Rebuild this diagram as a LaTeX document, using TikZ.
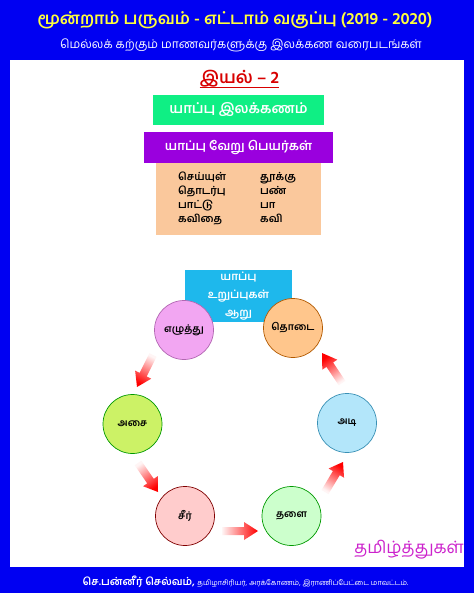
\documentclass[tikz,border=0pt]{standalone}
\usepackage{fontspec}
\setmainfont[Script=Tamil]{Hind Madurai}
\usetikzlibrary{calc}
\definecolor{cbg}{HTML}{0000F2}
\definecolor{ctitle}{HTML}{FFFF3C}
\definecolor{cred}{HTML}{D80000}
\definecolor{cgreen}{HTML}{0FEF84}
\definecolor{cpurple}{HTML}{9A00DE}
\definecolor{cpeach}{HTML}{FAC89C}
\definecolor{ccyan}{HTML}{1EB8EC}
\definecolor{cmag}{HTML}{CC22CC}
\definecolor{casai}{HTML}{CCF266}

% shaded arrow: #1 tail, #2 head, #3 shading angle
\newcommand{\flowarrow}[3]{%
  \shade[top color=red, bottom color=red!4, shading angle=#3]
    ($(#1)!4pt!90:(#2)$) -- ($(#1)!22pt!(#2)!4pt!90:(#2)$)
    -- ($(#1)!22pt!(#2)!9pt!90:(#2)$) -- (#2)
    -- ($(#1)!22pt!(#2)!9pt!-90:(#2)$) -- ($(#1)!22pt!(#2)!4pt!-90:(#2)$)
    -- ($(#1)!4pt!-90:(#2)$) -- cycle;}

\begin{document}
\begin{tikzpicture}[x=1pt, y=-1pt,
  bar/.style={inner sep=0pt, text=white, font=\bfseries\fontsize{12.5}{14}\selectfont},
  item/.style={inner sep=0pt, anchor=base west, font=\bfseries\fontsize{10.5}{12}\selectfont},
  ring/.style={circle, line width=0.7pt, minimum size=59pt, inner sep=0pt,
    font=\bfseries\fontsize{10}{12}\selectfont}]

\useasboundingbox (0,0) rectangle (474,593);
\fill[cbg] (0,0) rectangle (474,593);
\fill[white] (10,60) rectangle (464,567);

% ---- header
\node[text=ctitle, font=\bfseries\fontsize{16.6}{18}\selectfont] (title) at (235,20)
  {மூன்றாம் பருவம் - எட்டாம் வகுப்பு (2019 - 2020)};
\node[text=white, font=\fontsize{12}{14}\selectfont] (sub) at (241,45)
  {மெல்லக் கற்கும் மாணவர்களுக்கு இலக்கண வரைபடங்கள்};

% ---- chapter and boxes
\node[text=cred, inner sep=0pt, font=\bfseries\fontsize{17}{19}\selectfont] (iyal) at (239.5,79) {இயல் – 2};
\draw[cred, line width=0.6pt] ([yshift=-3pt]iyal.base west) -- ([yshift=-3pt]iyal.base east);

\node[bar, fill=cgreen, minimum width=171pt, minimum height=30pt, font=\bfseries\fontsize{14}{15}\selectfont] (yappu) at (238.5,110) {யாப்பு இலக்கணம்};
\node[bar, fill=cpurple, minimum width=189pt, minimum height=31pt] (veru) at (238.5,147.5) {யாப்பு வேறு பெயர்கள்};
\node[fill=cpeach, minimum width=165pt, minimum height=72pt, inner sep=0pt] (names) at (238.5,199) {};
\foreach \a/\b [count=\i] in {செய்யுள்/தூக்கு, தொடர்பு/பண், பாட்டு/பா, கவிதை/கவி} {
  \node[item] (l\i) at (178,167+14*\i) {\a};
  \node[item] (r\i) at (260,167+14*\i) {\b};
}

% ---- six parts
\node[bar, fill=ccyan, minimum width=107pt, minimum height=52pt, align=center,
  font=\bfseries\fontsize{11}{18}\selectfont] (aru) at (238.5,296) {யாப்பு\\உறுப்புகள்\\ஆறு};

\node[ring, fill=violet!30!magenta!35, draw=violet!60] (ezh) at (184,330) {எழுத்து};
\node[ring, fill=orange!45, draw=orange!70!black] (thodai) at (293,328) {தொடை};
\node[ring, fill=casai, draw=green!60!black] (asai) at (132.5,424) {அசை};
\node[ring, fill=cyan!30, draw=cyan!70!black] (adi) at (347,423) {அடி};
\node[ring, fill=red!20, draw=red!50!black] (seer) at (185,516) {சீர்};
\node[ring, fill=green!20, draw=green!60!black] (thalai) at (291.5,516) {தளை};

\coordinate (t1) at ([shift={(-31,25)}]ezh.center);
\coordinate (h1) at ([shift={(4.5,-37)}]asai.center);
\coordinate (t2) at ([shift={(5.5,39)}]asai.center);
\coordinate (h2) at ([shift={(-27,-24)}]seer.center);
\coordinate (t3) at ([shift={(37,15)}]seer.center);
\coordinate (h3) at ([shift={(-33.5,15)}]thalai.center);
\coordinate (t4) at ([shift={(33.5,-24)}]thalai.center);
\coordinate (h4) at ([shift={(-4,39)}]adi.center);
\coordinate (t5) at ([shift={(-5,-40)}]adi.center);
\coordinate (h5) at ([shift={(29,25)}]thodai.center);
\flowarrow{t1}{h1}{153}
\flowarrow{t2}{h2}{-145}
\flowarrow{t3}{h3}{-90}
\flowarrow{t4}{h4}{-31}
\flowarrow{t5}{h5}{34}

% ---- footer
\node[text=cmag, font=\fontsize{17}{19}\selectfont] (site) at (409,550) {தமிழ்த்துகள்};
\node[text=white] (foot) at (245.5,582)
  {{\bfseries\fontsize{10.5}{13}\selectfont செ.பன்னீர் செல்வம்,} {\fontsize{7.3}{10}\selectfont தமிழாசிரியர், அரக்கோணம், இராணிப்பேட்டை மாவட்டம்.}};
\end{tikzpicture}
\end{document}
